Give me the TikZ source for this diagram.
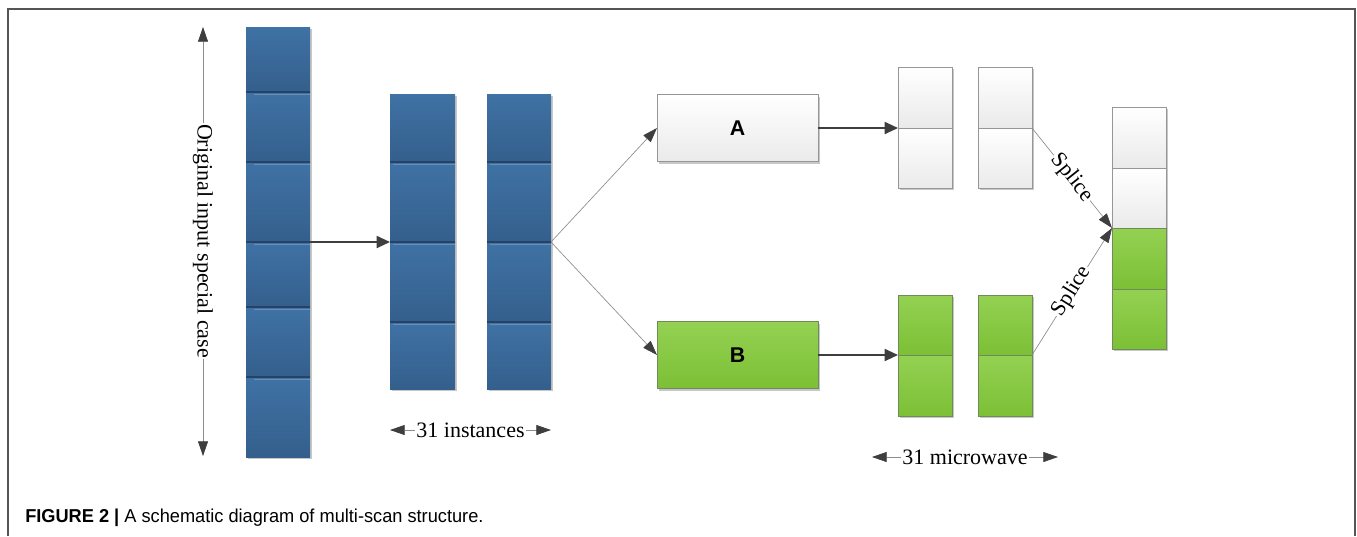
\documentclass[tikz,border=0pt]{standalone}
\usepackage{fontspec}
\setmainfont{Liberation Serif}
\newfontfamily\capfont{Liberation Sans}
\usetikzlibrary{shadows,arrows.meta,calc}
\definecolor{bluetop}{RGB}{63,114,165}
\definecolor{bluebot}{RGB}{52,95,140}
\definecolor{sepdark}{RGB}{38,66,100}
\definecolor{seplight}{RGB}{105,143,182}
\definecolor{greentop}{RGB}{148,209,82}
\definecolor{greenbot}{RGB}{124,192,54}
\definecolor{whitebot}{RGB}{234,234,234}
\definecolor{boxline}{RGB}{150,150,150}
\definecolor{greenline}{RGB}{112,138,92}
\definecolor{arrowdark}{RGB}{62,62,62}
\definecolor{thinline}{RGB}{140,140,140}
\definecolor{framecol}{RGB}{85,85,85}
\newcommand{\mkseg}[6]{%
  \node[#2, minimum width={(#5-#3)*0.75pt}, minimum height={(#6-#4)*0.75pt}]
    (#1) at ({(#3+#5)/2},{(#4+#6)/2}) {};}
\begin{document}
\begin{tikzpicture}[x=0.75pt,y=-0.75pt,
  seg/.style={rectangle, inner sep=0pt, outer sep=0pt,
    drop shadow={shadow xshift=1.5pt, shadow yshift=-1.5pt, opacity=0.22, fill=black}},
  blueseg/.style={seg, top color=bluetop, bottom color=bluebot, draw=none},
  whiteseg/.style={seg, top color=white, bottom color=whitebot, draw=boxline, line width=0.6pt},
  greenseg/.style={seg, top color=greentop, bottom color=greenbot, draw=greenline, line width=0.6pt},
  dsep/.style={draw=sepdark, line width=0.8pt},
  lsep/.style={draw=seplight, line width=0.6pt},
  thick arrow/.style={draw=arrowdark, line width=1.4pt, -{Triangle[length=10pt,width=9pt,color=arrowdark]}},
  thin arrow/.style={draw=thinline, line width=0.5pt, -{Triangle[length=11pt,width=7.5pt,color=arrowdark]}},
  thin double/.style={draw=thinline, line width=0.5pt, {Triangle[length=11pt,width=7.5pt,color=arrowdark]}-{Triangle[length=11pt,width=7.5pt,color=arrowdark]}},
  label text/.style={font=\fontsize{16.5}{18}\selectfont, fill=white, inner sep=1pt},
  boxtext/.style={font=\capfont\bfseries\fontsize{16}{18}\selectfont}
]
\useasboundingbox (0,0) rectangle (1357,536);
% frame
\draw[framecol, line width=1.3pt] (8,536) -- (8,9) -- (1355,9) -- (1355,536);

% tall left bar
\mkseg{t1}{blueseg}{246}{27}{310}{92}
\mkseg{t2}{blueseg}{246}{92}{310}{162}
\mkseg{t3}{blueseg}{246}{162}{310}{242}
\mkseg{t4}{blueseg}{246}{242}{310}{307}
\mkseg{t5}{blueseg}{246}{307}{310}{377}
\mkseg{t6}{blueseg}{246}{377}{310}{457}
\foreach \s in {t1,t2,t3,t4,t5}{
  \draw[dsep] (\s.south west) -- (\s.south east);
  \draw[lsep] ([yshift=-1.6pt,xshift=6pt]\s.south west) -- ([yshift=-1.6pt]\s.south east);
}

% middle bars
\mkseg{ma1}{blueseg}{390}{94}{455}{162}
\mkseg{ma2}{blueseg}{390}{162}{455}{242}
\mkseg{ma3}{blueseg}{390}{242}{455}{322}
\mkseg{ma4}{blueseg}{390}{322}{455}{389}
\mkseg{mb1}{blueseg}{487}{94}{551}{162}
\mkseg{mb2}{blueseg}{487}{162}{551}{242}
\mkseg{mb3}{blueseg}{487}{242}{551}{322}
\mkseg{mb4}{blueseg}{487}{322}{551}{389}
\foreach \s in {ma1,ma2,ma3,mb1,mb2,mb3}{
  \draw[dsep] (\s.south west) -- (\s.south east);
  \draw[lsep] ([yshift=-1.6pt,xshift=2pt]\s.south west) -- ([yshift=-1.6pt]\s.south east);
}

% A and B boxes
\node[whiteseg, minimum width={161*0.75pt}, minimum height={67*0.75pt}, boxtext] (A) at (737.5,128) {A};
\node[greenseg, minimum width={161*0.75pt}, minimum height={67*0.75pt}, boxtext] (B) at (737.5,355) {B};

% white columns
\mkseg{wa1}{whiteseg}{898}{67}{952}{128}
\mkseg{wa2}{whiteseg}{898}{128}{952}{188}
\mkseg{wb1}{whiteseg}{978}{67}{1032}{128}
\mkseg{wb2}{whiteseg}{978}{128}{1032}{188}
% green columns
\mkseg{ga1}{greenseg}{898}{295}{952}{355}
\mkseg{ga2}{greenseg}{898}{355}{952}{416}
\mkseg{gb1}{greenseg}{978}{295}{1032}{355}
\mkseg{gb2}{greenseg}{978}{355}{1032}{416}
% right stack
\mkseg{r1}{whiteseg}{1112}{107}{1166}{168}
\mkseg{r2}{whiteseg}{1112}{168}{1166}{228}
\mkseg{r3}{greenseg}{1112}{228}{1166}{289}
\mkseg{r4}{greenseg}{1112}{289}{1166}{349}

% connectors
\draw[thick arrow] (t3.south east) -- (ma3.north west);
\draw[thin arrow] (mb2.south east) -- (A.west);
\draw[thin arrow] (mb2.south east) -- (B.west);
\draw[thick arrow] (A.east) -- (wa1.south west);
\draw[thick arrow] (B.east) -- (ga1.south west);
\draw[thin arrow] (wb1.south east) -- node[label text, sloped] {Splice} (r2.south west);
\draw[thin arrow] (gb1.south east) -- node[label text, sloped] {Splice} (r2.south west);

% left vertical axis
\coordinate (vtop) at (203,27);
\coordinate (vbot) at (203,456);
\draw[thin double] (vtop) -- (vbot);
\node[label text, rotate=-90] (vlabel) at (203,241) {Original input special case};

% count labels
\coordinate (il) at (390,430);
\coordinate (ir) at (551,430);
\draw[thin double] (il) -- (ir);
\node[label text] (ilabel) at (470.5,430) {31 instances};
\coordinate (ml) at (872,457);
\coordinate (mr) at (1058,457);
\draw[thin double] (ml) -- (mr);
\node[label text] (mlabel) at (965,457) {31 microwave};

% caption
\node[anchor=base west, inner sep=0pt, xscale=0.975, font=\capfont\fontsize{14}{16}\selectfont] (cap) at (25,522)
  {\textbf{FIGURE 2 |} A schematic diagram of multi-scan structure.};
\end{tikzpicture}
\end{document}
